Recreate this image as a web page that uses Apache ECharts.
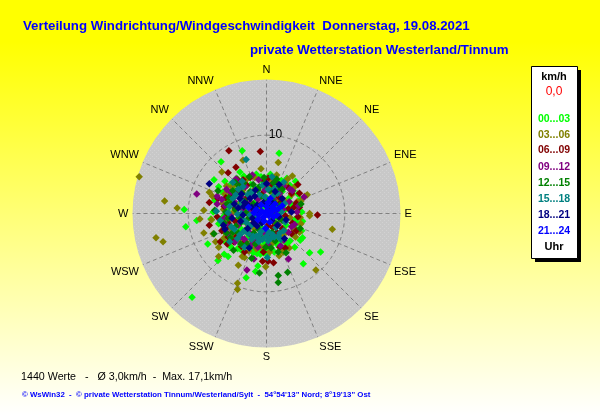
<!DOCTYPE html>
<html><head><meta charset="utf-8">
<style>html,body{margin:0;padding:0;background:#fff}#c{width:600px;height:415px}</style>
<script src="https://cdn.jsdelivr.net/npm/echarts@6/dist/echarts.min.js"></script>
</head><body><div id="c"></div>
<script>
const directions=['N','NNE','NE','ENE','E','ESE','SE','SSE','S','SSW','SW','WSW','W','WNW','NW','NNW'];
const titleMain='Verteilung Windrichtung/Windgeschwindigkeit  Donnerstag, 19.08.2021';
const titleSub='private Wetterstation Westerland/Tinnum';
const statsLine='1440 Werte   -   Ø 3,0km/h  -  Max. 17,1km/h';
const footer='© WsWin32  -  © private Wetterstation Tinnum/Westerland/Sylt  -  54°54\'13" Nord; 8°19\'13" Ost';
const hourLabels=['00...03','03...06','06...09','09...12','12...15','15...18','18...21','21...24'];
const hourColors=['#00ff00','#808000','#800000','#800080','#008000','#008080','#000080','#0000ff'];
// [east, north] wind components in km/h
const h00=[[-3.1,8.0],[1.6,7.7],[-5.8,6.6],[-6.7,4.3],[-10.5,0.5],[-8.9,-0.9],[-10.3,-1.7],[-7.5,-3.9],[-6.2,-6.0],[-5.4,-5.2],[-4.9,-5.5],[-9.5,-10.7],[-2.6,-8.2],[-1.4,-7.4],[-1.1,-6.7],[4.7,-6.4],[5.5,-5.0],[6.9,-4.9],[4.6,-3.1],[4.3,-3.4],[3.6,-4.3],[4.5,-2.2],[-5.3,4.1],[-3.4,5.3],[-1.3,5.0],[2.6,4.5],[3.7,4.1],[-6.1,3.4],[-5.6,2.7],[-6.6,1.7],[-7.1,-0.7],[-6.1,-1.3],[-6.8,0.2],[4.3,1.8],[4.1,0.6],[4.6,-1.0],[3.7,-1.9],[3.0,-3.5],[2.2,-4.7],[-1.7,-5.0],[-1.2,-5.1],[-0.8,-5.2],[-0.4,-5.0],[0.1,-5.3],[-1.5,-4.6],[-0.9,-4.8],[0.4,-4.6],[-4.4,-3.3],[-3.7,-4.5],[-5.1,-2.7],[-2.9,-4.1],[-4.6,1.2],[-3.3,2.6],[-2.0,3.7],[0.3,3.3],[2.0,2.8],[3.1,1.2],[2.5,-1.5],[1.0,-3.2],[-2.3,-2.9],[-3.8,-0.8],[-1.4,1.5],[1.2,0.9],[-0.8,-1.7],[1.7,-0.6],[-2.6,0.7],[0.0,2.0],[-4.2,3.1],[3.4,2.9],[-3.2,-2.0],[-5.5,-3.4],[-5.0,0.4],[-4.0,-2.2],[-2.4,2.2],[-0.5,4.1],[1.5,3.6],[2.9,2.0],[3.6,-0.8],[2.0,-2.8],[-0.2,-3.8],[-1.9,-3.5],[-4.9,2.2],[-1.1,3.3],[0.9,-0.7],[-2.9,-1.0],[-0.4,0.9],[2.4,0.5],[-5.6,-0.5],[-3.5,1.2],[1.4,-4.0],[-5.0,-3.8],[-4.6,-4.2],[-5.4,-1.8],[-5.3,-0.2],[-5.0,1.6],[-4.6,3.7],[-3.8,4.5],[-2.9,4.8],[-0.7,4.7],[0.5,5.0],[1.9,4.2],[3.0,3.6],[4.0,2.5],[4.5,0.2],[4.0,-1.2],[3.4,-2.7],[1.0,-4.9],[-0.3,-4.6],[-1.9,-4.5],[-3.2,-4.7],[2.6,-3.9],[1.9,-3.5],[0.5,-4.1],[-0.6,-4.3],[-1.1,-3.8]];
const h03=[[-16.25,4.7],[-13.0,1.6],[-11.4,0.7],[-14.1,-3.1],[-13.2,-3.6],[-8.0,0.4],[-8.5,-0.7],[-8.0,-2.5],[1.5,6.5],[-0.7,5.7],[-3.0,6.8],[-5.7,5.3],[-3.7,-8.9],[-3.7,-9.7],[-3.6,-6.6],[6.3,-7.2],[8.4,-2.0],[5.5,-0.3],[5.5,0.0],[5.2,2.4],[4.9,2.2],[3.3,4.8],[2.7,4.4],[-6.1,-5.5],[-2.8,-5.6],[-0.1,-6.8],[-7.3,2.7],[-6.9,2.2],[-7.0,-0.8],[-6.5,-3.6],[-6.8,-2.6],[-6.1,-4.3],[-3.1,-5.5],[1.6,-5.4],[2.1,-4.9],[3.7,-3.0],[4.4,-1.3],[4.3,-0.5],[3.9,1.5],[2.4,3.9],[-5.1,3.5],[-3.9,3.8],[-2.5,4.4],[0.5,4.3],[-4.6,-1.9],[-3.3,-3.5],[-1.4,-4.1],[0.6,-3.9],[1.9,-2.7],[3.0,-0.5],[2.3,1.7],[0.8,2.6],[-1.7,2.9],[-3.2,1.3],[-2.4,-1.4],[-1.0,0.6],[0.9,-1.1],[-4.2,0.2],[-1.3,-4.5],[-0.9,-4.2],[-0.4,-4.4],[-1.8,-4.0],[-5.3,-2.4],[-4.9,-0.9],[-5.6,1.3],[-3.0,3.0],[0.0,3.5],[3.2,2.4],[3.5,-2.0],[-2.1,1.2],[1.6,0.3],[-0.4,-2.7],[-5.4,-3.1],[-4.8,-3.5],[-5.5,0.5],[-5.3,2.5],[-4.4,3.4],[-1.5,4.6],[1.3,4.9],[3.6,3.4],[4.4,1.6],[4.2,-2.4],[2.9,-4.4],[0.4,-4.9],[-2.3,-4.8],[-4.1,-2.7],[-3.5,-1.0],[-1.5,-2.0],[0.9,-3.4],[2.5,-2.4],[1.2,1.7],[-0.9,2.1]];
const h06=[[-4.8,8.0],[-0.8,7.9],[-3.9,5.9],[-4.9,5.2],[-3.7,4.3],[6.5,-0.2],[-7.3,1.4],[-7.3,-1.5],[-0.5,-6.1],[0.9,-6.3],[0.2,-6.1],[4.0,3.7],[3.8,1.3],[1.1,4.1],[-6.2,1.9],[-5.9,-3.6],[-5.0,-3.9],[-6.3,-0.4],[-2.8,-4.9],[2.4,-4.4],[3.2,-2.6],[4.0,-0.4],[2.8,3.3],[-2.1,4.6],[0.7,3.7],[-4.5,2.3],[-3.4,3.3],[-5.4,0.9],[-4.8,-1.3],[-3.8,-2.9],[-1.8,-3.4],[0.4,-3.0],[2.0,-1.9],[2.8,0.6],[1.6,2.1],[-0.6,2.5],[-2.6,1.9],[-3.3,-0.3],[-1.7,-1.2],[0.2,-1.5],[1.1,0.3],[-0.8,1.1],[-5.7,-2.2],[4.2,2.6],[-5.1,-1.7],[-4.2,-3.6],[-3.2,-4.2],[-1.0,-3.1],[1.3,-2.4],[3.3,-1.2],[3.5,0.8],[2.1,3.4],[-0.3,4.2],[-3.0,4.3],[-4.3,1.0],[-2.2,-2.6],[0.6,0.6],[-1.6,0.2],[1.8,1.4],[-2.8,0.9],[-5.2,2.0],[-5.0,-0.1],[-4.9,-3.0],[-0.4,-4.9],[1.7,-4.3],[3.8,-2.2],[4.2,0.8],[3.2,2.6],[0.2,4.5],[-2.5,3.6],[-3.9,2.8],[-4.0,-1.0],[-2.7,-3.6],[0.8,-1.8],[2.4,-0.3]];
const h09=[[-8.9,2.5],[-2.5,-7.2],[2.8,-5.8],[-1.6,-5.8],[4.8,2.1],[3.3,2.9],[-6.3,1.2],[-6.3,2.2],[-3.9,4.4],[-1.8,4.9],[-5.1,3.1],[-5.7,1.8],[-5.4,-0.6],[-4.9,-2.6],[-4.0,-3.6],[-1.1,-4.3],[1.8,-4.1],[3.2,-1.7],[4.1,1.0],[2.2,3.5],[0.1,3.8],[-2.7,3.4],[-4.1,1.5],[-3.6,-1.5],[-2.2,-2.4],[-0.1,-2.6],[1.5,-1.4],[2.1,0.5],[0.9,1.8],[-1.1,1.8],[-2.1,0.3],[-0.9,-0.8],[0.5,0.2],[-4.6,-0.3],[-3.2,2.1],[-1.3,-3.5],[1.0,-2.9],[2.8,-2.4],[2.9,1.5],[-0.2,3.0],[-2.8,-3.3],[-3.0,0.5],[-5.2,-1.4],[-5.3,1.0],[-4.6,2.7],[-3.4,3.9],[-1.0,4.3],[1.0,4.4],[3.0,3.1],[3.9,0.2],[3.6,-1.4],[2.2,-3.4],[0.2,-4.0],[-1.9,-3.9],[-3.3,-3.0],[-1.3,-1.1],[1.7,2.6],[-2.0,1.4]];
const h12=[[1.5,-8.8],[1.5,-7.9],[2.7,-7.5],[-0.9,-7.6],[-4.2,-4.7],[-6.7,-2.6],[-6.6,0.4],[-6.2,2.9],[-2.2,4.7],[-0.3,4.6],[1.3,4.4],[4.4,1.2],[4.3,-1.9],[2.5,-5.0],[1.5,-4.9],[-1.9,-5.7],[-4.0,4.0],[-2.9,3.9],[-4.8,2.0],[-5.4,-1.2],[-4.6,-3.1],[-2.5,-3.9],[-0.1,-4.3],[1.5,3.3],[-0.9,3.4],[-3.1,2.6],[-4.0,0.5],[-3.2,-1.1],[-1.6,-2.5],[0.7,-2.4],[2.0,-0.9],[1.7,1.1],[-0.1,1.6],[-1.7,1.2],[-2.3,-0.6],[-0.4,-0.9],[0.8,-0.2],[-1.1,3.0],[0.4,2.9],[-5.2,0.2],[-5.0,1.2],[-3.6,-2.5],[-4.3,2.9],[-2.1,2.8],[0.9,3.9],[1.1,-3.5],[-0.6,-3.2],[-2.7,-2.1],[-3.9,-1.6],[-2.8,1.6],[-0.7,0.3],[1.3,-1.3],[-5.1,-2.5],[-4.3,-2.4],[-3.3,-3.9],[-1.4,-3.9],[0.6,-4.4],[2.0,3.1],[-0.2,3.9],[-1.7,3.7],[-3.5,3.5],[-4.5,1.3],[-4.9,-0.6],[-3.4,-0.5],[-2.6,0.1],[-1.0,-2.0],[0.9,1.5],[1.6,-0.6],[-0.6,2.2]];
const h15=[[-2.6,6.9],[0.7,4.7],[-4.3,4.0],[-3.1,4.1],[2.2,4.0],[-6.4,0.3],[-5.9,-0.9],[-4.7,-3.6],[-2.8,-4.3],[0.1,-5.6],[-3.6,3.1],[-4.3,1.9],[-4.9,0.1],[-4.5,-1.7],[-3.4,-2.7],[-1.3,-2.9],[-0.5,-3.3],[0.2,-3.5],[1.0,-3.0],[-1.0,-3.6],[1.7,-2.5],[2.4,-1.1],[1.4,2.6],[0.2,3.1],[-1.9,2.7],[-3.1,1.5],[-2.9,-0.9],[-2.0,-1.6],[-0.2,-1.9],[1.2,-1.8],[-0.7,-2.3],[0.3,-2.4],[1.3,-0.2],[0.4,1.2],[-1.3,0.9],[-1.4,-0.4],[-2.3,-2.6],[-1.7,-2.9],[-0.9,-2.7],[0.0,-2.9],[0.8,-2.7],[1.5,-2.9],[-1.9,-3.3],[0.5,-3.2],[-3.7,-0.1],[-3.4,0.9],[-2.4,2.4],[-0.9,2.4],[0.9,2.3],[2.3,1.3],[-2.5,-1.2],[-4.1,-2.0],[-4.7,0.9],[-3.9,2.4],[-3.0,3.4],[-0.5,3.6],[1.0,3.2],[-2.9,-2.3],[-3.7,-3.2],[-1.0,-3.2],[1.8,-3.3],[2.2,-2.2],[-3.2,0.0],[-2.1,-0.2],[-2.4,0.8],[-0.2,2.1],[1.9,0.2]];
const h18=[[-7.3,3.8],[-5.3,-2.0],[-3.2,2.5],[-2.9,0.9],[-3.0,-0.2],[-2.5,1.2],[-2.1,1.9],[-1.5,2.2],[0.0,3.8],[1.6,3.7],[2.0,1.9],[-5.5,-1.5],[-4.4,-0.6],[-2.4,-1.9],[-1.8,-0.6],[-0.8,0.1],[0.1,0.9],[0.8,1.3],[0.7,-0.9],[-0.6,-1.2],[-1.2,-1.6],[1.6,-0.4],[2.3,-3.2],[-2.2,-4.4],[-1.2,1.1],[-3.4,1.9],[-2.8,1.4],[-1.9,0.8],[1.1,2.8],[2.5,-0.8],[-3.6,0.7],[-3.3,-1.0],[-4.1,1.2],[-1.4,3.0],[-0.4,1.4],[1.4,-1.5],[-1.6,-1.2],[3.2,0.2]];
const h21=[[-0.2,0],[0.1,0.4],[-0.6,0.3],[0.3,-0.3],[-0.4,-0.5],[0.6,0.2],[-1.0,-0.2],[0.0,0.9],[-0.3,-1.0],[0.9,-0.4],[-1.3,0.5],[0.7,0.8],[-1.1,-0.8],[1.1,0.5],[1.3,-0.2],[-0.7,1.1],[0.4,-1.1],[-1.6,0.1],[0.2,1.4],[1.5,0.6],[1.1,1.2],[-0.1,-1.9],[2.0,1.0],[0.5,1.9],[-2.3,0.8]];
const hourData=[h00,h03,h06,h09,h12,h15,h18,h21];
const legendSpeed='km/h',legendValue='0,0',legendFoot='Uhr';
const speedMax=17.1, ringSpeed=10;

const toPolar=p=>[Math.hypot(p[0],p[1]),(Math.atan2(p[0],p[1])*180/Math.PI+360)%360];
const legendYs=[119,135,150,167,183,199,215,231];
const legendTexts=hourLabels.map((t,i)=>({type:'text',x:554,y:legendYs[i],z:20,style:{text:t,fill:hourColors[i],font:'bold 10.5px "Liberation Sans"',align:'center',verticalAlign:'middle'}}));
const gridStyle={color:'#808080',width:1,type:[4,3]};
const spokes=directions.map((d,i)=>({type:'line',coordinateSystem:'polar',silent:true,symbol:'none',z:2,lineStyle:gridStyle,data:[[0,i*22.5],[speedMax,i*22.5]]}));
const ringAngles=Array.from({length:73},(_,i)=>i*5);
const ring={type:'line',coordinateSystem:'polar',silent:true,symbol:'none',z:2,lineStyle:gridStyle,data:ringAngles.map(a=>[ringSpeed,a])};
const tex=document.createElement('canvas');tex.width=tex.height=4;
const tc=tex.getContext('2d');tc.fillStyle='#c8c8c8';tc.fillRect(0,0,4,4);tc.fillStyle='#d2d2d2';tc.fillRect(0,0,1,1);tc.fillRect(2,2,1,1);
const chart=echarts.init(document.getElementById('c'),null,{renderer:'canvas'});
chart.setOption({
 animation:false,
 backgroundColor:{type:'linear',x:0,y:0,x2:0,y2:1,colorStops:[{offset:0,color:'#ffff00'},{offset:0.1,color:'#ffff00'},{offset:1,color:'#ffffff'}]},
 title:[
  {text:titleMain,left:23,top:19,padding:0,textStyle:{color:'#0000ff',fontFamily:'Liberation Sans',fontWeight:'bold',fontSize:13.25,lineHeight:14}},
  {text:titleSub,left:250,top:43,padding:0,textStyle:{color:'#0000ff',fontFamily:'Liberation Sans',fontWeight:'bold',fontSize:13.3,lineHeight:14}}
 ],
 polar:{center:[266.5,213.5],radius:134},
 angleAxis:{type:'value',min:0,max:360,interval:22.5,startAngle:90,clockwise:true,z:1,
  axisLine:{show:false},axisTick:{show:false},splitLine:{show:false},
  axisLabel:{show:true,margin:4,color:'#000',fontFamily:'Liberation Sans',fontSize:11,formatter:v=>directions[Math.round(v/22.5)%16]}},
 radiusAxis:{type:'value',min:0,max:speedMax,interval:ringSpeed,z:15,axisLine:{show:false},axisTick:{show:false},splitLine:{show:false},
  axisLabel:{show:true,color:'#000',fontFamily:'Liberation Sans',fontSize:12,margin:-9,padding:[4,0,0,0],verticalAlign:'middle',align:'center',formatter:v=>v===ringSpeed?'10':''}},
 series:[...spokes,ring,...hourData.map((d,i)=>({type:'scatter',coordinateSystem:'polar',name:hourLabels[i],symbol:'diamond',symbolSize:7.5,z:3+i,clip:false,
   itemStyle:{color:hourColors[i],opacity:1},data:d.map(toPolar)}))],
 graphic:[
  {type:'circle',shape:{cx:266.5,cy:213.5,r:134},style:{fill:{image:tex,repeat:'repeat'}},z:-10},
  {type:'rect',shape:{x:535,y:70,width:46,height:192},style:{fill:'#000'},z:18},
  {type:'rect',shape:{x:531.5,y:66.5,width:46,height:192},style:{fill:'#fff',stroke:'#000',lineWidth:1},z:19},
  {type:'text',x:554,y:77,z:20,style:{text:legendSpeed,fill:'#000',font:'bold 11px "Liberation Sans"',align:'center',verticalAlign:'middle'}},
  {type:'text',x:554,y:92,z:20,style:{text:legendValue,fill:'#ff0000',font:'12px "Liberation Sans"',align:'center',verticalAlign:'middle'}},
  ...legendTexts,
  {type:'text',x:554,y:247,z:20,style:{text:legendFoot,fill:'#000',font:'bold 11px "Liberation Sans"',align:'center',verticalAlign:'middle'}},
  {type:'text',x:21,y:377,z:20,style:{text:statsLine,fill:'#000',font:'10.7px "Liberation Sans"',verticalAlign:'middle'}},
  {type:'text',x:22,y:394.5,z:20,style:{text:footer,fill:'#0000ff',font:'bold 7.85px "Liberation Sans"',verticalAlign:'middle'}}
 ]
});
</script></body></html>
